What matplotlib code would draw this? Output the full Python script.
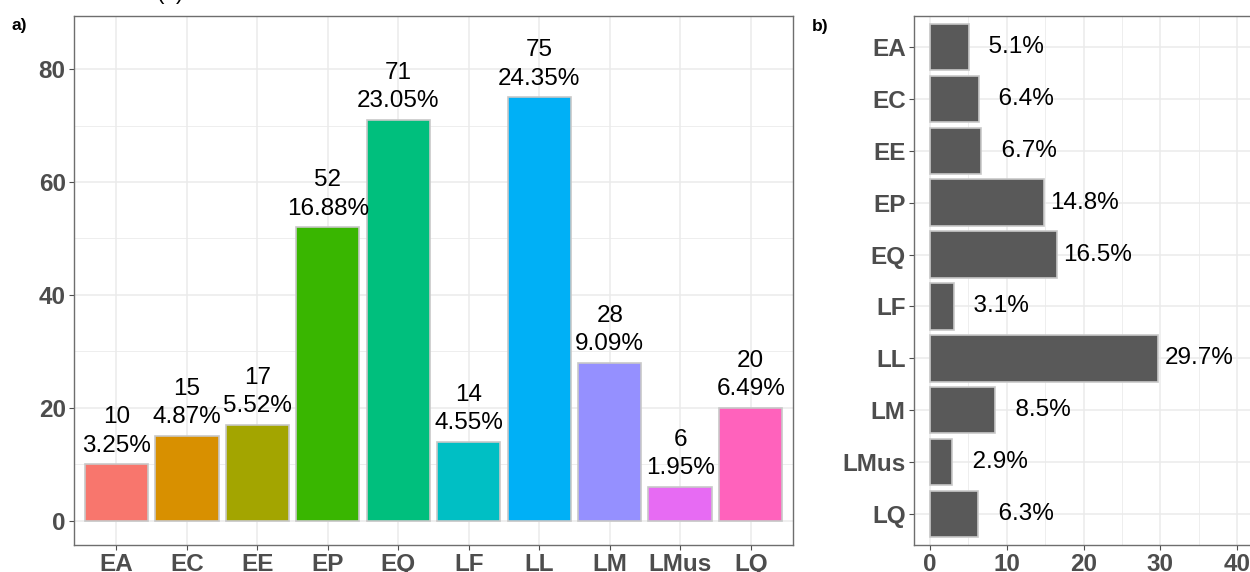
import matplotlib.pyplot as plt
from matplotlib.ticker import MultipleLocator

plt.rcParams['font.family'] = ['Liberation Sans', 'DejaVu Sans']

# counts per group (panel a)
groups = ['EA', 'EC', 'EE', 'EP', 'EQ', 'LF', 'LL', 'LM', 'LMus', 'LQ']
counts = [10, 15, 17, 52, 71, 14, 75, 28, 6, 20]
count_pct = [3.25, 4.87, 5.52, 16.88, 23.05, 4.55, 24.35, 9.09, 1.95, 6.49]
hue_colors = ['#F8766D', '#D89000', '#A3A500', '#39B600', '#00BF7D',
              '#00BFC4', '#00B0F6', '#9590FF', '#E76BF3', '#FF62BC']

# share per group (panel b)
share_pct = [5.1, 6.4, 6.7, 14.8, 16.5, 3.1, 29.7, 8.5, 2.9, 6.3]

grid_col = '#EBEBEB'
tick_col = '#4D4D4D'
border_col = '#6E6E6E'
outline_col = '#C8C8C8'


def bw_theme(ax):
    ax.set_axisbelow(True)
    ax.grid(which='major', color=grid_col, linewidth=1.1)
    ax.grid(which='minor', color=grid_col, linewidth=0.6)
    for s in ax.spines.values():
        s.set_color(border_col)
        s.set_linewidth(1.0)
    ax.tick_params(which='major', length=3.5, width=0.8, color=tick_col,
                   labelcolor=tick_col, labelsize=17.5, pad=2.5)
    ax.tick_params(which='minor', length=0)
    for lab in ax.get_xticklabels() + ax.get_yticklabels():
        lab.set_fontweight('bold')


fig = plt.figure(figsize=(12.5, 5.72), dpi=100)

# panel a: counts
ax1 = fig.add_axes([0.0592, 0.0472, 0.5752, 0.9248])
x = list(range(len(groups)))
ax1.bar(x, counts, width=0.9, color=hue_colors, edgecolor=outline_col,
        linewidth=1.2)
for xi, c, p in zip(x, counts, count_pct):
    ax1.annotate(f'{c}\n{p:.2f}%', (xi, c), xytext=(0, 5.5),
                 textcoords='offset points', ha='center', va='bottom',
                 fontsize=17.5, color='black', linespacing=1.38)
ax1.set_xlim(-0.6, 9.6)
ax1.set_ylim(-4.3, 89.4)
ax1.set_xticks(x)
ax1.set_xticklabels(groups)
ax1.set_yticks([0, 20, 40, 60, 80])
ax1.yaxis.set_minor_locator(MultipleLocator(10))
bw_theme(ax1)

# panel b: percentages, horizontal
ax2 = fig.add_axes([0.7312, 0.0472, 0.2824, 0.9248])
ax2.barh(x, share_pct, height=0.9, color='#595959', edgecolor=outline_col,
         linewidth=1.2)
for yi, v in zip(x, share_pct):
    lab = f'{v:.1f}%'.rjust(5, '\u2007')
    ax2.annotate(lab, (v, yi), xytext=(4.5, 0), textcoords='offset points',
                 ha='left', va='center', fontsize=17.5, color='black')
ax2.set_xlim(-2.09, 43.9)
ax2.set_ylim(9.6, -0.6)
ax2.set_yticks(x)
ax2.set_yticklabels(groups)
ax2.set_xticks([0, 10, 20, 30, 40])
ax2.xaxis.set_minor_locator(MultipleLocator(5))
bw_theme(ax2)

# panel tags
fig.text(0.0088, 0.956, 'a)', fontsize=12.5, fontweight='bold', va='center')
fig.text(0.6496, 0.954, 'b)', fontsize=12.5, fontweight='bold', va='center')
fig.text(0.136, 1.012, '(a)', fontsize=16, va='center', ha='center')

fig.savefig('out.png', dpi=100)
